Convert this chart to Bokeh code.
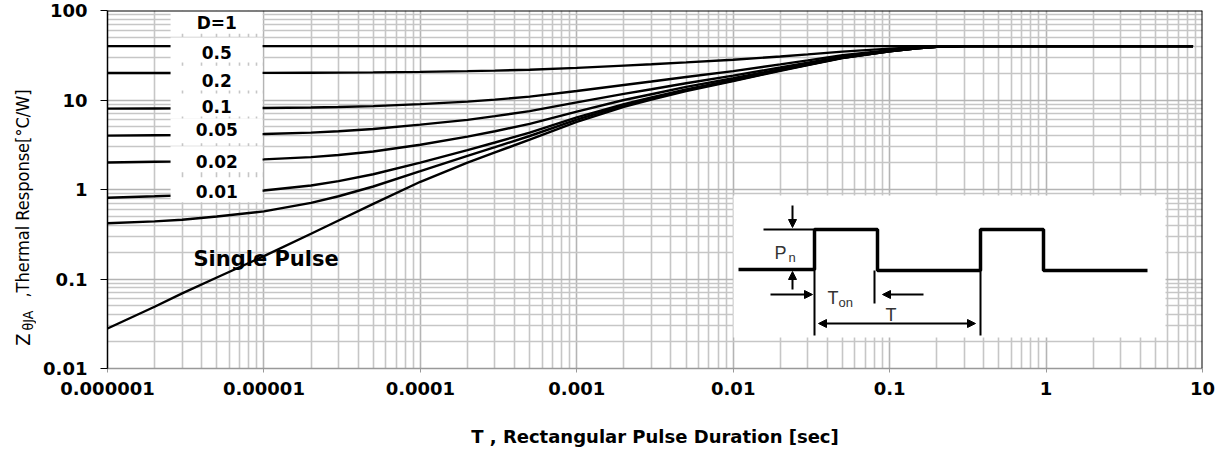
from math import pi
from bokeh.plotting import figure
from bokeh.layouts import row
from bokeh.models import (Range1d, FixedTicker, CustomJSTickFormatter, Span, Label,
                          Arrow, NormalHead, LinearScale)
from bokeh.core.properties import value
from bokeh.embed import file_html
from bokeh.resources import INLINE

# ---------------- data ----------------
pulse_time = [1e-6, 2e-6, 3e-6, 5e-6, 1e-5, 2e-5, 3e-5, 5e-5, 1e-4, 2e-4,
              3e-4, 5e-4, 1e-3, 2e-3, 3e-3, 5e-3, 1e-2, 2e-2, 3e-2, 5e-2,
              0.1, 0.15, 0.2, 0.3, 1.0, 8.7]
z_d1 = [40, 40, 40, 40, 40, 40, 40, 40, 40, 40,
        40, 40, 40, 40, 40, 40, 40, 40, 40, 40,
        40, 40, 40, 40, 40, 40]
z_d05 = [20.0, 20.02, 20.03, 20.05, 20.09, 20.16, 20.23, 20.35, 20.6, 21.0,
         21.3, 21.8, 22.85, 24.2, 25.05, 26.3, 28.15, 30.6, 32.3, 34.75,
         37.5, 38.9, 39.6, 40, 40, 40]
z_d02 = [8.0, 8.04, 8.06, 8.08, 8.14, 8.26, 8.36, 8.55, 9.0, 9.6,
         10.1, 10.9, 12.6, 14.7, 16.1, 18.1, 21.0, 25.0, 27.7, 31.6,
         36.0, 38.2, 39.4, 40, 40, 40]
z_d01 = [4.0, 4.04, 4.06, 4.1, 4.17, 4.32, 4.48, 4.75, 5.3, 6.0,
         6.6, 7.5, 9.4, 11.7, 13.2, 15.4, 18.7, 23.1, 26.15, 30.55,
         35.5, 38.0, 39.3, 40, 40, 40]
z_d005 = [2.0, 2.04, 2.06, 2.1, 2.17, 2.3, 2.43, 2.66, 3.16, 3.9,
          4.47, 5.42, 7.4, 10.0, 11.6, 14.0, 17.5, 22.1, 25.4, 30.0,
          35.25, 37.9, 39.25, 40, 40, 40]
z_d002 = [0.81, 0.84, 0.86, 0.9, 0.975, 1.11, 1.24, 1.48, 2.0, 2.76,
          3.35, 4.33, 6.4, 9.0, 10.7, 13.15, 16.8, 21.6, 24.9, 29.7,
          35.1, 37.85, 39.2, 40, 40, 40]
z_d001 = [0.42, 0.44, 0.46, 0.5, 0.57, 0.71, 0.84, 1.08, 1.6, 2.38,
          2.97, 3.96, 6.04, 8.72, 10.4, 12.9, 16.5, 21.4, 24.75, 29.6,
          35.05, 37.8, 39.2, 40, 40, 40]
z_single = [0.028, 0.049, 0.069, 0.104, 0.18, 0.32, 0.45, 0.69, 1.22, 2.0,
            2.6, 3.6, 5.7, 8.4, 10.1, 12.6, 16.3, 21.2, 24.6, 29.5,
            35.0, 37.8, 39.2, 40, 40, 40]
curves = [z_d1, z_d05, z_d02, z_d01, z_d005, z_d002, z_d001, z_single]

x_ticks = [1e-6, 1e-5, 1e-4, 1e-3, 1e-2, 1e-1, 1, 10]
x_tick_labels = ["0.000001", "0.00001", "0.0001", "0.001", "0.01", "0.1", "1", "10"]
y_ticks = [0.01, 0.1, 1, 10, 100]
y_tick_labels = ["0.01", "0.1", "1", "10", "100"]

legend_text = ["D=1", "0.5", "0.2", "0.1", "0.05", "0.02", "0.01"]
legend_y = [72, 34, 16.5, 8.5, 4.7, 2.06, 0.96]
legend_box_top = [100, 49.9, 24.2, 11.8, 6.2, 3.05, 1.37]
legend_box_bottom = [55, 26.2, 12.8, 6.54, 3.28, 1.56, 0.72]

H = 454

# ---------------- main figure ----------------
p = figure(width=1180, height=H, x_axis_type="log", y_axis_type="log",
           x_range=Range1d(1e-6, 10), y_range=Range1d(0.01, 100),
           output_backend="svg", toolbar_location=None,
           min_border_left=71, min_border_right=14, min_border_top=10, min_border_bottom=86)
p.outline_line_color = None
p.background_fill_color = "white"
p.border_fill_color = "white"

fmt_code = """
for (let i = 0; i < vals.length; i++) {
  if (Math.abs(Math.log10(tick) - Math.log10(vals[i])) < 1e-6) { return labels[i]; }
}
return "";
"""
x_minor = [m * 10.0 ** e for e in range(-6, 1) for m in range(2, 10)]
y_minor = [m * 10.0 ** e for e in range(-2, 2) for m in range(2, 10)]
p.xaxis.ticker = FixedTicker(ticks=x_ticks, minor_ticks=x_minor)
p.yaxis.ticker = FixedTicker(ticks=y_ticks, minor_ticks=y_minor)
p.xaxis.formatter = CustomJSTickFormatter(args=dict(vals=x_ticks, labels=x_tick_labels), code=fmt_code)
p.yaxis.formatter = CustomJSTickFormatter(args=dict(vals=y_ticks, labels=y_tick_labels), code=fmt_code)

for ax in (p.xaxis, p.yaxis):
    ax.major_label_text_font = "DejaVu Sans"
    ax.major_label_text_font_style = "bold"
    ax.major_label_text_font_size = "18px"
    ax.major_label_text_color = "black"
    ax.minor_tick_in = 0
    ax.minor_tick_out = 0
    ax.major_tick_in = 0

p.xaxis.major_tick_out = 4
p.xaxis.major_label_standoff = 9
p.xaxis.axis_line_color = "#999999"
p.xaxis.major_tick_line_color = "#999999"
p.xaxis.axis_line_width = 1.5
p.xaxis.axis_label = "T , Rectangular Pulse Duration [sec]"
p.xaxis.axis_label_text_font = "DejaVu Sans"
p.xaxis.axis_label_text_font_style = "bold"
p.xaxis.axis_label_text_font_size = "18px"
p.xaxis.axis_label_text_color = "black"
p.xaxis.axis_label_standoff = 28

p.yaxis.major_tick_out = 7
p.yaxis.major_label_standoff = 13
p.yaxis.axis_line_color = "black"
p.yaxis.major_tick_line_color = "black"
p.yaxis.axis_line_width = 1.5

for g in (p.xgrid, p.ygrid):
    g.grid_line_color = "#b4b4b4"
    g.grid_line_width = 1.6
    g.minor_grid_line_color = "#c6c6c6"
    g.minor_grid_line_width = 1.6

# frame top/right borders
p.add_layout(Span(location=100, dimension="width", line_color="black", line_width=2))
p.add_layout(Span(location=10, dimension="height", line_color="black", line_width=2))

# ---------------- curves ----------------
for zs in curves:
    p.line(pulse_time, zs, line_color="black", line_width=2.4)

# ---------------- D labels (white boxes) ----------------
p.quad(left=[2.53e-6] * len(legend_text), right=[9.8e-6] * len(legend_text),
       top=legend_box_top, bottom=legend_box_bottom,
       fill_color="white", line_color=None)
p.text(x=[5e-6] * len(legend_text), y=legend_y, text=legend_text,
       text_font=value("DejaVu Sans"), text_font_style="bold", text_font_size="17px",
       text_align="center", text_baseline="middle", text_color="black")

p.text(x=[3.54e-6], y=[0.167], text=["Single Pulse"],
       text_font=value("DejaVu Sans"), text_font_style="bold", text_font_size="21px",
       text_align="left", text_baseline="middle", text_color="black")

# ---------------- inset diagram (linear frame coordinates) ----------------
p.extra_x_ranges = {"ix": Range1d(0, 1095)}
p.extra_y_ranges = {"iy": Range1d(0, 358)}
p.extra_x_scales = {"ix": LinearScale()}
p.extra_y_scales = {"iy": LinearScale()}
IX = dict(x_range_name="ix", y_range_name="iy")

p.quad(left=[626], right=[1058], bottom=[31], top=[173], fill_color="white", line_color=None, **IX)

wave_x = [631, 707, 707, 770, 770, 873, 873, 936, 936, 1040]
wave_y = [99, 99, 139, 139, 98, 98, 139, 139, 98, 98]
p.line(wave_x, wave_y, line_color="black", line_width=3.5, **IX)
p.segment(x0=[707, 873, 767, 656], y0=[99, 98, 98, 139],
          x1=[707, 873, 767, 707], y1=[33, 33, 65, 139],
          line_color="black", line_width=2, **IX)

def head():
    return NormalHead(size=8, fill_color="black", line_color="black")

arrows = [(685, 163, 685, 141), (685, 79, 685, 97), (663, 74, 705, 74), (816, 74, 775, 74)]
for (xs, ys, xe, ye) in arrows:
    p.add_layout(Arrow(end=head(), x_start=xs, y_start=ys, x_end=xe, y_end=ye,
                       line_color="black", line_width=2, **IX))
p.add_layout(Arrow(start=head(), end=head(), x_start=711, y_start=45, x_end=868, y_end=45,
                   line_color="black", line_width=2, **IX))

txt = dict(text_font="Liberation Sans", text_color="#333333", **IX)
p.add_layout(Label(x=667, y=116, text="P", text_font_size="18px", text_baseline="middle", **txt))
p.add_layout(Label(x=681, y=111, text="n", text_font_size="13px", text_baseline="middle", **txt))
p.add_layout(Label(x=720, y=71, text="T", text_font_size="18px", text_baseline="middle", **txt))
p.add_layout(Label(x=731, y=66, text="on", text_font_size="13px", text_baseline="middle", **txt))
p.add_layout(Label(x=778, y=54, text="T", text_font_size="18px", text_baseline="middle", **txt))

# ---------------- y axis title (separate strip, with subscript) ----------------
# the strip's frame is aligned with the main frame (10 px top, 86 px bottom)
tf = figure(width=36, height=H, x_range=Range1d(0, 36), y_range=Range1d(86, 444),
            output_backend="svg", toolbar_location=None,
            min_border_left=0, min_border_right=0, min_border_top=10, min_border_bottom=86,
            x_axis_location=None, y_axis_location=None)
tf.outline_line_color = None
tf.grid.visible = False
title_parts = ["Z", "θJA", ",Thermal Response[°C/W]"]
title_x = [22, 27, 22]
title_y = [115, 134, 261]
title_size = ["20px", "14px", "18px"]
tf.text(x=title_x, y=title_y, text=title_parts, text_font_size=title_size,
        text_font=value("DejaVu Sans Condensed"), angle=pi / 2,
        text_align="center", text_baseline="middle", text_color="black")

open("out.html", "w").write(file_html(row(tf, p), INLINE))
